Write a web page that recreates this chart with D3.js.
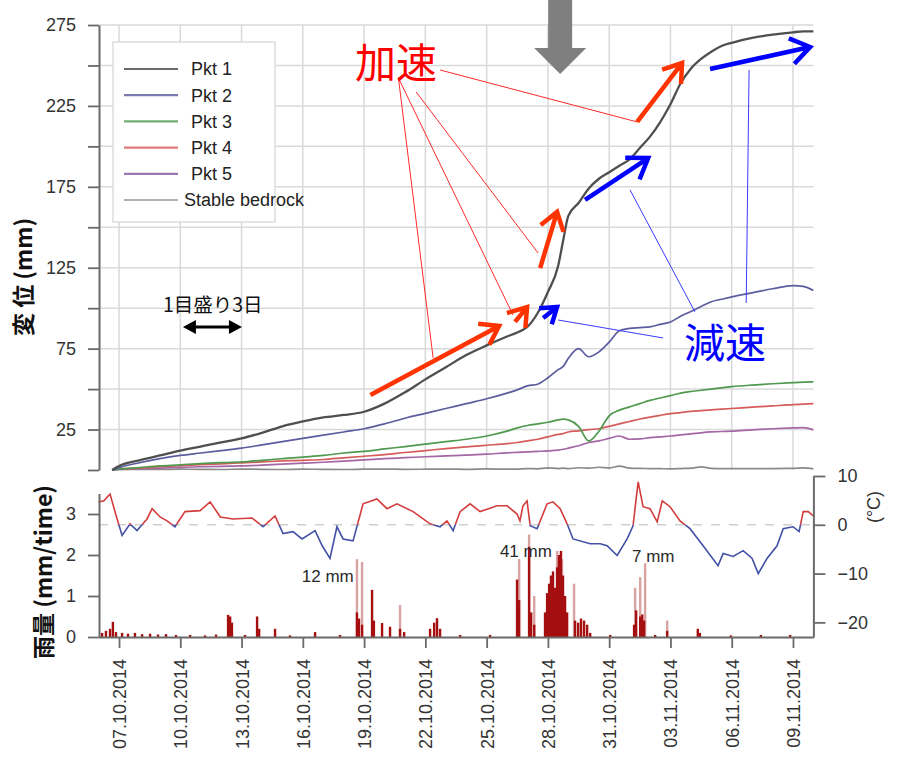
<!DOCTYPE html>
<html>
<head>
<meta charset="utf-8">
<title>Displacement, rain and temperature</title>
<script src="https://d3js.org/d3.v7.min.js"></script>
<style>
  body { margin: 0; background: #fff; }
  svg text { font-family: "Liberation Sans", Arial, sans-serif; }
  .jp { font-family: "Noto Sans CJK JP", sans-serif; }
</style>
</head>
<body>
<div id="chart"></div>
<script>
// all days are counted from 06.10.2014 00:00
const dispDays = [0.66,1,2,3,4,5,6,7,8,9,10,11,12,13,14,15,16,17,18,19,20,
  20.5,21,21.5,22,22.5,22.75,23,23.5,24,24.5,25,25.5,26,26.5,27,27.5,28,28.5,29,29.5,30,30.5,31,
  32,33,34,34.5,35];
const pkt1 = [0,2.5,6,9,12,14.5,17,19.5,23,27,30,32.5,34,36,41,48,56,63.5,71,77,82.5,
  85,88.5,97,110,126,142,157,165,174,180,184,188,192,199,206,215,226,239,248,254,258.5,262,264,
  267,269,270.5,271,271];
const pkt2 = [0,1.5,4.5,7,9,10.5,12,13.5,15.5,17.5,19.5,21.5,23.5,25.5,28.5,32,35,38,41,44,47.5,
  49.5,52,53,57,62,64,69,75,70,73,79,86,87.5,88,88.5,90,91.5,95,98,101,104,105.5,107,
  109.5,112,114,113.5,111];
const pkt3 = [0,0.5,1.5,2.5,3.2,4,4.5,5,6,7,8,9,10.5,11.5,13,14.5,16,17.5,19,21,24,
  26,27.5,28.5,29.5,31,31.5,31,27,18,24,33.5,37,39,41,43,44.5,46,47.5,48.5,49.3,50,50.8,51.5,
  52.5,53.3,54,54.3,54.5];
const pkt4 = [0,0.5,1.2,2,2.7,3.3,3.8,4.4,5,5.6,6,6.5,7.5,8.5,9.5,10.8,12,13.2,14.3,15.3,16.3,
  17,18,19,20.5,22,22.5,23.5,24.2,25,25.5,27,28.5,30,31.5,32.7,33.8,34.8,35.5,36.2,36.7,37.2,37.6,38,
  38.8,39.6,40.4,40.7,41];
const pkt5 = [0,0.3,0.8,1.2,1.6,2,2.3,2.5,3,3.6,4.2,4.8,5.5,6.2,7,7.6,8.2,8.7,9.2,9.8,10.6,
  10.9,11.2,11.5,11.8,12.3,12.8,13.5,15,17,18,19.5,21,19,19.2,20,20.5,21,21.7,22.3,23,23.5,23.8,24,
  24.8,25.5,26,26.2,24.8];
const bedrock = [0,0.3,0.4,0.3,0.5,0.4,0.3,0.6,0.4,0.3,0.5,0.4,0.3,0.5,0.6,0.4,0.5,0.6,0.4,0.7,0.5,
  0.6,0.9,0.7,1.3,0.9,1.1,0.8,1.4,1.1,1.7,1.3,2.4,1.2,1.0,0.9,0.8,0.7,0.9,1.1,1.9,1.0,0.8,0.9,
  0.8,0.9,1.0,1.3,0.7];
const seriesNames = ["Pkt 1", "Pkt 2", "Pkt 3", "Pkt 4", "Pkt 5", "Stable bedrock"];
const seriesValues = [pkt1, pkt2, pkt3, pkt4, pkt5, bedrock];
const seriesColors = ["#4f4f4f", "#5c5c9e", "#4f9a4f", "#d65c5c", "#a466a4", "#8a8a8a"];
const legendColors = ["#6a6a6a", "#7a7ab0", "#72ad72", "#e07a7a", "#9a78b0", "#b0b0b0"];

const tempDays = [0,0.26,0.56,0.85,1.15,1.54,1.88,2.37,2.62,3.01,3.35,3.74,4.23,4.97,5.46,5.96,6.58,
  7.51,8.05,8.64,9.03,9.52,9.96,10.6,10.95,11.33,11.67,11.97,12.46,12.95,13.63,14.12,14.61,15.4,
  16.23,16.72,17.06,17.36,17.7,18.19,18.68,19.51,20.0,20.49,20.63,20.78,20.98,21.13,21.47,21.96,
  22.25,22.6,22.94,23.23,24.07,24.56,24.9,25.39,25.88,26.17,26.32,26.42,26.66,27.0,27.35,27.6,
  27.98,28.47,28.96,29.6,30.33,30.58,31.07,31.56,32.0,32.3,32.73,33.22,33.52,34.0,34.3,34.5,34.75,35.0];
const tempVals = [4.7,4.9,6.3,2,-2.2,0.2,-1.2,1.2,3.3,1.6,0.8,-0.4,2.7,2.9,4.7,1.6,1.2,
  1.4,-0.4,1.8,-1.8,-1.4,-2.9,-1.2,-4.3,-6.9,-0.4,-2.9,-3.3,4.3,5.3,3.3,4.3,2.7,
  0.2,-0.4,0.8,-1.2,2.7,4.3,2.7,3.9,3.9,2.2,0.8,3.9,4.9,-0.2,-0.8,4.3,
  4.7,3.3,0.2,-2.9,-3.9,-3.9,-4.3,-6.3,-2.9,-0.2,5.3,8.8,3.7,3.3,0.6,4.9,
  3.7,0.8,-0.8,-4.3,-8.4,-5.9,-6.5,-5.3,-6.9,-10,-6.9,-4.3,-0.8,-0.4,-1.4,2.7,2.7,1.8];

const rainDays = [0.17,0.36,0.56,0.7,0.85,1.15,1.44,1.78,2.13,2.52,2.91,3.3,3.79,4.48,5.21,5.75,
  6.34,6.44,6.53,7.17,7.76,7.86,8.64,9.37,10.6,11.82,12.65,12.75,12.9,13.39,13.48,13.88,14.27,
  14.76,14.96,16.23,16.43,16.57,16.72,17.7,19.17,20.49,20.59,21.08,21.18,21.33,21.86,21.96,22.06,
  22.15,22.25,22.35,22.45,22.54,22.64,22.74,22.84,22.94,23.33,23.48,23.62,23.77,23.92,24.07,25.05,
  26.22,26.32,26.52,26.62,26.71,27.25,27.84,29.34,29.44,30.96,32.43,33.86];
const rainVals = [0.1,0.15,0.2,0.37,0.12,0.1,0.08,0.1,0.07,0.08,0.06,0.07,0.05,0.05,0.04,0.06,
  0.54,0.5,0.35,0.05,0.5,0.2,0.2,0.04,0.12,0.05,0.6,0.45,0.3,1.15,0.4,0.34,0.25,
  0.2,0.12,0.2,0.35,0.46,0.2,0.05,0.05,1.4,0.9,2.2,0.6,0.3,0.6,1.07,1.3,
  1.5,1.6,1.2,1.7,2.0,2.1,1.5,1.0,0.6,0.4,0.35,0.45,0.4,0.3,0.1,0.05,
  0.3,0.65,0.5,0.55,0.4,0.05,0.15,0.2,0.1,0.04,0.05,0.05];
const rainPeakDays = [12.65,12.9,14.76,20.59,21.08,21.33,22.45,22.69,23.28,26.27,26.52,26.76,27.84];
const rainPeakVals = [1.9,1.83,0.78,1.9,2.5,1.0,2.1,1.9,1.3,1.2,1.46,1.8,0.4];
const rainTotals = [[9.95, 1.34, "12 mm"], [19.65, 1.95, "41 mm"], [26.12, 1.83, "7 mm"]];

const tickLabels = ["07.10.2014","10.10.2014","13.10.2014","16.10.2014","19.10.2014","22.10.2014",
  "25.10.2014","28.10.2014","31.10.2014","03.11.2014","06.11.2014","09.11.2014"];

// annotations in data units: [day, mm, day, mm]
const redArrows = [[13.31,46.4,19.61,89.0],[20.39,91.5,20.98,100.7],[21.62,124.8,22.45,159.5],[26.37,215.1,28.57,251.5]];
const blueArrows = [[21.77,93.9,22.45,100.7],[23.82,166.9,26.91,192.8],[29.94,247.8,34.84,261.4]];
const redLeaders = [[14.68,242.3,16.38,69.2],[14.68,242.3,20.29,95.8],[15.55,233.6,21.52,134.1],[16.72,247.2,26.37,215.1]];
const blueLeaders = [[26.02,173.1,29.2,97.7],[31.85,247.2,31.71,103.2],[22.5,92.7,27.64,81.6]];

const t0 = Date.UTC(2014, 9, 6);
const toDate = d => new Date(t0 + d * 864e5);
const parseTick = d3.utcParse("%d.%m.%Y");

const W = 919, H = 763;
const svg = d3.select("#chart").append("svg").attr("width", W).attr("height", H);

const x = d3.scaleUtc().domain([toDate(0), toDate(35)]).range([98.6, 813.4]);
const yTop = d3.scaleLinear().domain([0, 275]).range([470, 25]);
const yRain = d3.scaleLinear().domain([0, 3.5]).range([637, 493.5]);
const yTemp = d3.scaleLinear().domain([-23, 10]).range([637, 476]);
const tickDates = tickLabels.map(parseTick);

// grid of top panel
const grid = svg.append("g").attr("stroke", "#d9d9d9").attr("stroke-width", 1.5);
grid.selectAll("line.h").data(d3.range(25, 276, 25)).join("line")
  .attr("x1", 99).attr("x2", x.range()[1])
  .attr("y1", d => yTop(d)).attr("y2", d => yTop(d));
grid.selectAll("line.v").data(tickDates).join("line")
  .attr("x1", d => x(d)).attr("x2", d => x(d))
  .attr("y1", yTop(275)).attr("y2", yTop(0));

// top left axis
const labelled = [25, 75, 125, 175, 225, 275];
svg.append("g").attr("transform", "translate(99,0)")
  .call(d3.axisLeft(yTop).tickValues(d3.range(0, 276, 25)).tickSize(11).tickSizeOuter(0)
    .tickPadding(12).tickFormat(d => labelled.includes(d) ? d : ""));

// legend
const lg = svg.append("g");
lg.append("rect").attr("x", 113).attr("y", 42).attr("width", 162).attr("height", 180)
  .attr("fill", "#fff").attr("stroke", "#d4d4d4").attr("stroke-width", 1.2);
seriesNames.forEach((name, i) => {
  const yy = 69 + i * 26.2;
  lg.append("line").attr("x1", 124).attr("x2", 178).attr("y1", yy).attr("y2", yy)
    .attr("stroke", legendColors[i]).attr("stroke-width", 2.2);
  lg.append("text").attr("x", i < 5 ? 191 : 184).attr("y", yy).attr("dy", "0.35em")
    .attr("font-size", 18).attr("fill", "#222").text(name);
});

// displacement lines
const line = d3.line().x((d, i) => x(toDate(dispDays[i]))).y(d => yTop(d)).curve(d3.curveMonotoneX);
const order = [5, 4, 3, 2, 1, 0];
svg.append("g").selectAll("path").data(order).join("path")
  .attr("fill", "none")
  .attr("stroke", i => seriesColors[i])
  .attr("stroke-width", i => i === 0 ? 2.3 : 1.7)
  .attr("d", i => line(seriesValues[i]));

// bottom panel: zero line for temperature
svg.append("line").attr("x1", 99).attr("x2", 813).attr("y1", yTemp(0)).attr("y2", yTemp(0))
  .attr("stroke", "#cfcfcf").attr("stroke-width", 1.5).attr("stroke-dasharray", "9,9");

// rain bars
const barW = 2.4;
svg.append("g").selectAll("rect").data(rainPeakDays).join("rect")
  .attr("x", d => x(toDate(d)) - barW / 2).attr("width", barW)
  .attr("y", (d, i) => yRain(rainPeakVals[i]))
  .attr("height", (d, i) => yRain(0) - yRain(rainPeakVals[i]))
  .attr("fill", "#d9a3a3");
svg.append("g").selectAll("rect").data(rainDays).join("rect")
  .attr("x", d => x(toDate(d)) - barW / 2).attr("width", barW)
  .attr("y", (d, i) => yRain(rainVals[i]))
  .attr("height", (d, i) => yRain(0) - yRain(rainVals[i]))
  .attr("fill", "#a50f0f");

// temperature, red above 0 and blue below
const defs = svg.append("defs");
defs.append("clipPath").attr("id", "warm").append("rect")
  .attr("x", 90).attr("width", 740).attr("y", 460).attr("height", yTemp(0) - 460);
defs.append("clipPath").attr("id", "cold").append("rect")
  .attr("x", 90).attr("width", 740).attr("y", yTemp(0)).attr("height", 660 - yTemp(0));
const tline = d3.line().x((d, i) => x(toDate(tempDays[i]))).y(d => yTemp(d));
svg.append("path").attr("d", tline(tempVals)).attr("fill", "none")
  .attr("stroke", "#d43c3c").attr("stroke-width", 1.6).attr("clip-path", "url(#warm)");
svg.append("path").attr("d", tline(tempVals)).attr("fill", "none")
  .attr("stroke", "#4250a6").attr("stroke-width", 1.6).attr("clip-path", "url(#cold)");

svg.append("g").selectAll("text").data(rainTotals).join("text")
  .attr("x", d => x(toDate(d[0]))).attr("y", d => yRain(d[1]))
  .attr("font-size", 17).attr("fill", "#2a2a2a").text(d => d[2]);

// bottom panel axes
svg.append("g").attr("transform", "translate(99,0)")
  .call(d3.axisLeft(yRain).tickValues([0, 1, 2, 3]).tickSize(11).tickSizeOuter(0).tickPadding(12)
    .tickFormat(d3.format("d")));
svg.append("g").attr("transform", "translate(813.4,0)")
  .call(d3.axisRight(yTemp).tickValues([-20, -10, 0, 10]).tickSize(12).tickSizeOuter(0).tickPadding(12));
const axX = svg.append("g").attr("transform", `translate(0,${yRain(0)})`)
  .call(d3.axisBottom(x).tickValues(tickDates).tickSize(11).tickSizeOuter(0)
    .tickFormat(d3.utcFormat("%d.%m.%Y")));
axX.selectAll("text").attr("transform", "rotate(-90)").attr("text-anchor", "end")
  .attr("x", -22).attr("y", 0).attr("dy", "0.36em");

svg.selectAll(".domain").attr("stroke", "#6a6a6a").attr("stroke-width", 2);
svg.selectAll(".tick line").attr("stroke", "#6a6a6a").attr("stroke-width", 1.8);
svg.selectAll(".tick text").attr("font-size", 18).attr("fill", "#333")
  .style("font-family", "Liberation Sans, Arial, sans-serif");

// axis titles
svg.append("text").attr("class", "jp").attr("transform", `translate(32,${277}) rotate(-90)`)
  .attr("text-anchor", "middle").attr("font-size", 23).attr("font-weight", "bold")
  .attr("fill", "#111").text("変 位 (mm)");
svg.append("text").attr("class", "jp").attr("transform", `translate(52,${572}) rotate(-90)`)
  .attr("text-anchor", "middle").attr("font-size", 23).attr("font-weight", "bold")
  .attr("fill", "#111").text("雨量 (mm/time)");
svg.append("text").attr("transform", `translate(880,${507}) rotate(-90)`)
  .attr("text-anchor", "middle").attr("font-size", 18).attr("fill", "#333").text("(°C)");

// annotations
const P = (d, v) => [x(toDate(d)), yTop(v)];
const ann = svg.append("g");

function arrow(a, color, head) {
  const [x1, y1] = P(a[0], a[1]);
  const [x2, y2] = P(a[2], a[3]);
  const ang = Math.atan2(y2 - y1, x2 - x1);
  const w1 = [x2 - head * Math.cos(ang - 0.6), y2 - head * Math.sin(ang - 0.6)];
  const w2 = [x2 - head * Math.cos(ang + 0.6), y2 - head * Math.sin(ang + 0.6)];
  ann.append("path")
    .attr("d", `M${x1},${y1}L${x2},${y2}M${w1}L${x2},${y2}L${w2}`)
    .attr("fill", "none").attr("stroke", color).attr("stroke-width", 4.5)
    .attr("stroke-linejoin", "miter");
}
redLeaders.forEach(a => {
  const [x1, y1] = P(a[0], a[1]);
  const [x2, y2] = P(a[2], a[3]);
  ann.append("line").attr("x1", x1).attr("y1", y1).attr("x2", x2).attr("y2", y2)
    .attr("stroke", "#ff2a2a").attr("stroke-width", 1);
});
blueLeaders.forEach(a => {
  const [x1, y1] = P(a[0], a[1]);
  const [x2, y2] = P(a[2], a[3]);
  ann.append("line").attr("x1", x1).attr("y1", y1).attr("x2", x2).attr("y2", y2)
    .attr("stroke", "#3a3aff").attr("stroke-width", 1);
});
redArrows.forEach(a => arrow(a, "#ff3300", 21));
blueArrows.forEach((a, i) => arrow(a, "#0000ff", i === 0 ? 18 : 23));

ann.append("text").attr("class", "jp").attr("x", P(12.56, 0)[0]).attr("y", yTop(242.3))
  .attr("font-size", 41).attr("fill", "#ff0000").text("加速");
ann.append("text").attr("class", "jp").attr("x", P(28.67, 0)[0]).attr("y", yTop(69.2))
  .attr("font-size", 41).attr("fill", "#0000ff").text("減速");
ann.append("text").attr("class", "jp").attr("x", P(3.15, 0)[0]).attr("y", yTop(97.5))
  .attr("font-size", 19.5).attr("fill", "#111").text("1目盛り3日");

// double arrow for scale
const [da1, dy1] = P(4.13, 88.4);
const [da2] = P(7.02, 88.4);
ann.append("line").attr("x1", da1 + 8).attr("x2", da2 - 8).attr("y1", dy1).attr("y2", dy1)
  .attr("stroke", "#000").attr("stroke-width", 3);
ann.append("path").attr("d", `M${da1},${dy1}L${da1 + 13},${dy1 - 7}L${da1 + 13},${dy1 + 7}Z`).attr("fill", "#000");
ann.append("path").attr("d", `M${da2},${dy1}L${da2 - 13},${dy1 - 7}L${da2 - 13},${dy1 + 7}Z`).attr("fill", "#000");

// grey pointer arrow above the plot
const gx = x(toDate(22.6));
const gTop = yTop(290.5), gBase = yTop(260.8), gTip = yTop(244.7);
ann.append("path")
  .attr("d", `M${gx - 12},${gTop}L${gx + 12},${gTop}L${gx + 12},${gBase}L${gx + 26},${gBase}L${gx},${gTip}L${gx - 26},${gBase}L${gx - 12},${gBase}Z`)
  .attr("fill", "#7f7f7f");
</script>
</body>
</html>
